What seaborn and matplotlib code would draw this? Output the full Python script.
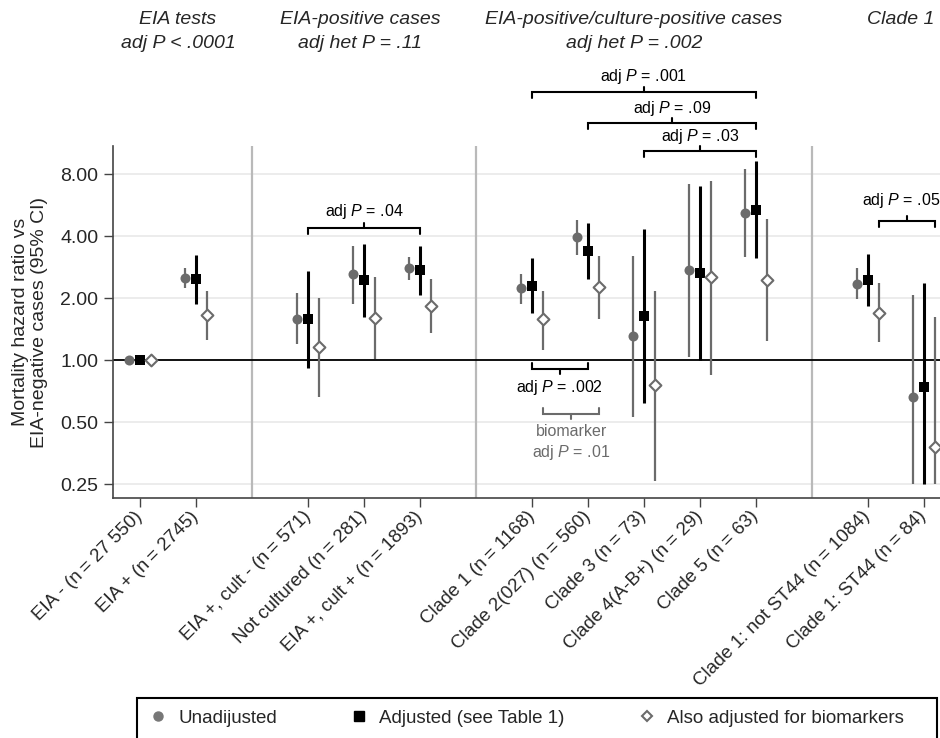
import numpy as np
import pandas as pd
import matplotlib
matplotlib.use("Agg")
import matplotlib.pyplot as plt
import matplotlib.transforms as mtransforms
from matplotlib.lines import Line2D
from matplotlib.patches import Rectangle
import seaborn as sns

# ---------------- data ----------------
labels = ["EIA - (n\u2009= 27 550)", "EIA + (n\u2009= 2745)",
          "EIA +, cult - (n\u2009= 571)", "Not cultured (n\u2009= 281)", "EIA +, cult + (n\u2009= 1893)",
          "Clade 1 (n\u2009= 1168)", "Clade 2(027) (n\u2009= 560)", "Clade 3 (n\u2009= 73)",
          "Clade 4(A-B+) (n\u2009= 29)", "Clade 5 (n\u2009= 63)",
          "Clade 1: not ST44 (n\u2009= 1084)", "Clade 1: ST44 (n\u2009= 84)"]
group_sizes = [2, 3, 5, 2]

unadj    = [1.00, 2.51, 1.59, 2.62, 2.80, 2.24, 3.96, 1.31, 2.74, 5.17, 2.34, 0.66]
unadj_lo = [1.00, 2.24, 1.20, 1.88, 2.45, 1.88, 3.25, 0.53, 1.04, 3.17, 1.98, 0.25]
unadj_hi = [1.00, 2.80, 2.11, 3.58, 3.15, 2.63, 4.78, 3.21, 7.15, 8.43, 2.79, 2.07]

adj      = [1.00, 2.47, 1.58, 2.44, 2.73, 2.30, 3.38, 1.64, 2.64, 5.37, 2.45, 0.74]
adj_lo   = [1.00, 1.88, 0.92, 1.62, 2.07, 1.70, 2.47, 0.62, 1.00, 3.12, 1.82, 0.25]
adj_hi   = [1.00, 3.23, 2.70, 3.66, 3.58, 3.12, 4.64, 4.31, 7.03, 9.28, 3.27, 2.36]

bio      = [1.00, 1.65, 1.16, 1.60, 1.82, 1.58, 2.27, 0.76, 2.52, 2.45, 1.70, 0.38]
bio_lo   = [1.00, 1.25, 0.66, 1.01, 1.35, 1.12, 1.59, 0.26, 0.85, 1.24, 1.22, 0.25]
bio_hi   = [1.00, 2.17, 2.00, 2.54, 2.47, 2.17, 3.20, 2.16, 7.40, 4.84, 2.36, 1.61]

yticks = [0.25, 0.5, 1, 2, 4, 8]
ytick_labels = ["0.25", "0.50", "1.00", "2.00", "4.00", "8.00"]

headers = [("EIA tests", "adj P < .0001"),
           ("EIA-positive cases", "adj het P = .11"),
           ("EIA-positive/culture-positive cases", "adj het P = .002"),
           ("Clade 1", "")]

legend_labels = ["Unadijusted", "Adjusted (see Table 1)", "Also adjusted for biomarkers"]

# ---------------- style ----------------
sns.set_theme(style="white")
plt.rcParams["font.family"] = ["Liberation Sans", "DejaVu Sans"]
plt.rcParams["mathtext.fontset"] = "custom"
plt.rcParams["mathtext.it"] = "Liberation Sans:italic"
plt.rcParams["mathtext.rm"] = "Liberation Sans"
plt.rcParams["mathtext.default"] = "it"

GRAY = "#6b6b6b"
SEP = "#b9b9b9"

# positions (with one-slot gap between groups)
positions = []
p = 1
for gs in group_sizes:
    for _ in range(gs):
        positions.append(p)
        p += 1
    p += 1
positions = np.array(positions, dtype=float)
separators = []
acc = 0
for gs in group_sizes[:-1]:
    acc += gs
    separators.append(positions[acc - 1] + 1)

off = 0.2
rows = []
for i in range(len(labels)):
    rows.append(dict(x=positions[i] - off, est=unadj[i], lo=unadj_lo[i], hi=unadj_hi[i], model="Unadjusted"))
    rows.append(dict(x=positions[i], est=adj[i], lo=adj_lo[i], hi=adj_hi[i], model="Adjusted"))
    rows.append(dict(x=positions[i] + off, est=bio[i], lo=bio_lo[i], hi=bio_hi[i], model="Biomarkers"))
df = pd.DataFrame(rows)

fig = plt.figure(figsize=(9.4, 7.38), dpi=100)
ax = fig.add_axes([113 / 940, 1 - 498 / 738, (940 - 113) / 940, (498 - 146) / 738])

ax.set_yscale("log", base=2)
ax.set_ylim(0.214, 10.94)
ax.set_xlim(0.518, 15.29)

# grid
for yt in yticks:
    ax.axhline(yt, color="#ebebeb", lw=1.3, zorder=0)
for s in separators:
    ax.axvline(s, color=SEP, lw=1.6, zorder=1)
ax.axhline(1.0, color="black", lw=1.3, zorder=2)

# CIs
d = df[df.model == "Unadjusted"]
ax.vlines(d.x, d.lo, d.hi, color=GRAY, lw=1.6, zorder=3)
d = df[df.model == "Biomarkers"]
ax.vlines(d.x, d.lo, d.hi, color=GRAY, lw=1.6, zorder=3)
d = df[df.model == "Adjusted"]
ax.vlines(d.x, d.lo, d.hi, color="black", lw=2.2, zorder=3)

sns.scatterplot(data=df[df.model == "Unadjusted"], x="x", y="est", marker="o", s=52,
                color=GRAY, edgecolor=GRAY, linewidth=0, ax=ax, zorder=5, legend=False)
sns.scatterplot(data=df[df.model == "Adjusted"], x="x", y="est", marker="s", s=62,
                color="black", edgecolor="black", linewidth=0, ax=ax, zorder=5, legend=False)
sns.scatterplot(data=df[df.model == "Biomarkers"], x="x", y="est", marker="D", s=36,
                color="white", edgecolor=GRAY, linewidth=1.5, ax=ax, zorder=5, legend=False)

# axes
ax.set_yticks(yticks)
ax.set_yticklabels(ytick_labels, fontsize=14)
ax.yaxis.set_minor_locator(matplotlib.ticker.NullLocator())
ax.set_xticks(positions)
ax.set_xticklabels(labels, rotation=45, ha="right", va="center", rotation_mode="anchor", fontsize=13.5)
ax.tick_params(axis="both", direction="out", length=6.5, width=1.0, color="#444444", pad=4, left=True, bottom=True)
ax.tick_params(axis="x", pad=5)
ax.set_xlabel("")
ax.set_ylabel("Mortality hazard ratio vs\nEIA-negative cases (95% CI)", fontsize=14, linespacing=1.15)
ax.yaxis.set_label_coords(-0.079, 0.5)
for sp in ["top", "right"]:
    ax.spines[sp].set_visible(False)
for sp in ["left", "bottom"]:
    ax.spines[sp].set_color("#444444")
    ax.spines[sp].set_linewidth(1.2)

# headers
trans = mtransforms.blended_transform_factory(ax.transData, fig.transFigure)
header_x = [1.68, 4.93, 9.82, 14.59]
for (l1, l2), hx in zip(headers, header_x):
    ax.text(hx, 1 - 20 / 738, l1, transform=trans, ha="center", va="center", fontsize=14, style="italic")
    if l2:
        ax.text(hx, 1 - 44 / 738, l2, transform=trans, ha="center", va="center",
                fontsize=14, style="italic")

# brackets
tick = 2 ** (6 / 62.1)
ctick = 2 ** (5 / 62.1)

def bracket(x0, x1, y, text, up=True, color="black", text_dy=11, text_dx=0, text2=None):
    xc = (x0 + x1) / 2
    if up:
        ax.plot([x0, x0, x1, x1], [y / tick, y, y, y / tick], color=color, lw=1.5, clip_on=False, zorder=6,
                solid_joinstyle="miter")
        ax.plot([xc, xc], [y, y * ctick], color=color, lw=1.5, clip_on=False, zorder=6)
        ax.annotate(text, (xc, y), xytext=(text_dx, text_dy), textcoords="offset points",
                    ha="center", va="center", fontsize=11.5, color=color, annotation_clip=False)
    else:
        ax.plot([x0, x0, x1, x1], [y * tick, y, y, y * tick], color=color, lw=1.5, clip_on=False, zorder=6,
                solid_joinstyle="miter")
        ax.plot([xc, xc], [y, y / ctick], color=color, lw=1.5, clip_on=False, zorder=6)
        ax.annotate(text, (xc, y), xytext=(text_dx, -text_dy), textcoords="offset points",
                    ha="center", va="center", fontsize=11.5, color=color, annotation_clip=False)
        if text2:
            ax.annotate(text2, (xc, y), xytext=(text_dx, -text_dy - 15), textcoords="offset points",
                        ha="center", va="center", fontsize=11.5, color=color, annotation_clip=False)

bracket(8, 12, 20.0, "adj $P$ = .001")
bracket(9, 12, 14.1, "adj $P$ = .09")
bracket(10, 12, 10.34, "adj $P$ = .03", text_dy=10.5)
bracket(4, 6, 4.38, "adj $P$ = .04", text_dy=12)
bracket(14.2, 15.2, 4.73, "adj $P$ = .05", text_dy=15, text_dx=-4)
bracket(8, 9, 0.905, "adj $P$ = .002", up=False, text_dy=13)
bracket(8.2, 9.2, 0.549, "biomarker", up=False, color=GRAY, text_dy=13, text2="adj $P$ = .01")

# legend
fig.patches.append(Rectangle((137 / 940, -0.02), (937 - 137) / 940, (738 - 698) / 738 + 0.02,
                             transform=fig.transFigure, fill=False, edgecolor="black", lw=1.5))
handles = [Line2D([], [], ls="", marker="o", ms=6.5, color="#777777", mec="#777777"),
           Line2D([], [], ls="", marker="s", ms=6.5, color="black"),
           Line2D([], [], ls="", marker="D", ms=5, mfc="white", mec=GRAY, mew=1.5)]
fig.legend(handles, legend_labels, loc="center left", bbox_to_anchor=(148.6 / 940, 1 - 718 / 738),
           ncol=3, frameon=False, handlelength=1, handletextpad=0.57, columnspacing=3.9,
           borderaxespad=0, borderpad=0, fontsize=13.5)

fig.savefig("out.png", dpi=100)
